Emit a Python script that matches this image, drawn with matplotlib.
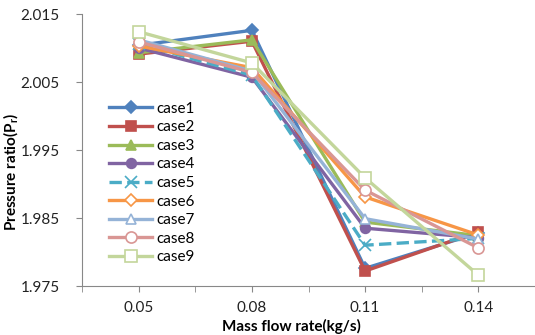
import matplotlib

matplotlib.use("Agg")

import matplotlib.pyplot as plt

# 質量流量ごとの圧力比
flow_rates = ["0.05", "0.08", "0.11", "0.14"]
case1 = [2.0104, 2.0126, 1.9776, 1.9828]
case2 = [2.0091, 2.0110, 1.9772, 1.9830]
case3 = [2.0093, 2.0112, 1.9844, 1.9824]
case4 = [2.0100, 2.0057, 1.9835, 1.9821]
case5 = [2.0106, 2.0060, 1.9810, 1.9820]
case6 = [2.0103, 2.0071, 1.9881, 1.9825]
case7 = [2.0112, 2.0066, 1.9849, 1.9819]
case8 = [2.0109, 2.0064, 1.9891, 1.9806]
case9 = [2.0124, 2.0078, 1.9909, 1.9766]
case_names = ["case1", "case2", "case3", "case4", "case5",
              "case6", "case7", "case8", "case9"]
y_ticks = [1.975, 1.985, 1.995, 2.005, 2.015]

plt.rcParams["font.family"] = ["Lato", "DejaVu Sans"]
plt.rcParams["mathtext.fontset"] = "custom"
plt.rcParams["mathtext.rm"] = "Lato:bold"
plt.rcParams["mathtext.it"] = "Lato:bold"

series = [case1, case2, case3, case4, case5, case6, case7, case8, case9]
styles = [
    dict(color="#4F81BD", marker="D", ms=6, mfc="#4F81BD", ls="-"),
    dict(color="#C0504D", marker="s", ms=7, mfc="#C0504D", ls="-"),
    dict(color="#9BBB59", marker="^", ms=7, mfc="#9BBB59", ls="-"),
    dict(color="#8064A2", marker="o", ms=7, mfc="#8064A2", ls="-"),
    dict(color="#4BACC6", marker="x", ms=8, mfc="#4BACC6", ls="--"),
    dict(color="#F79646", marker="D", ms=6, mfc="white", ls="-"),
    dict(color="#95B3D7", marker="^", ms=7, mfc="white", ls="-"),
    dict(color="#D99694", marker="o", ms=8, mfc="white", ls="-"),
    dict(color="#C3D69B", marker="s", ms=9, mfc="white", ls="-"),
]

fig = plt.figure(figsize=(5.35, 3.35), dpi=100)
ax = fig.add_axes([82 / 535, 49 / 335, 453 / 535, 272 / 335])

x = list(range(len(flow_rates)))
for name, vals, st in zip(case_names, series, styles):
    ax.plot(x, vals, color=st["color"], ls=st["ls"], lw=2.4,
            marker=st["marker"], markersize=st["ms"],
            markerfacecolor=st["mfc"], markeredgecolor=st["color"],
            markeredgewidth=1.2, label=name)

ax.set_xlim(-0.49, 3.47)
ax.set_ylim(1.975, 2.015)
ax.set_yticks(y_ticks)
ax.set_yticklabels([f"{v:.3f}" for v in y_ticks])
ax.set_xticks(x)
ax.set_xticklabels(flow_rates)
ax.set_xticks([-0.5 + 0.5 * i for i in range(9)], minor=True)
ax.tick_params(axis="x", which="both", length=4, color="#888888",
               labelsize=11, pad=7, labelcolor="#222222")
ax.tick_params(axis="y", length=4, color="#888888", labelsize=11, pad=12,
               labelcolor="#222222")

for side in ("top", "right"):
    ax.spines[side].set_visible(False)
for side in ("left", "bottom"):
    ax.spines[side].set_color("#888888")

ax.set_xlabel("Mass flow rate(kg/s)", fontsize=11, fontweight="bold")
ax.xaxis.set_label_coords(209 / 453, -33 / 272)
ax.set_ylabel("Pressure ratio(P$_r$)", fontsize=11, fontweight="bold")
ax.yaxis.set_label_coords(-62 / 453, 114 / 272)

ax.legend(loc="upper left", bbox_to_anchor=(0.047, 0.7), frameon=False,
          fontsize=11, handlelength=2.8, labelspacing=0.3,
          handletextpad=0.25, borderaxespad=0)

fig.savefig("out.png", dpi=100)
